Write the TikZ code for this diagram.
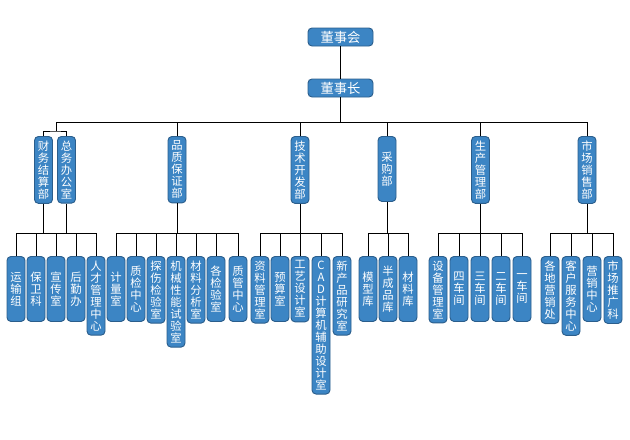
\documentclass[tikz,border=0pt]{standalone}
\usepackage{fontspec}
\newfontfamily\cjk{Noto Sans CJK SC}
\definecolor{unitfill}{HTML}{3C85C4}
\definecolor{unitline}{HTML}{2B5E8C}

\begin{document}
\begin{tikzpicture}[x=0.75pt, y=-0.75pt, line width=0.7pt,
        every node/.append style={font=\cjk}]
      \tikzstyle{box} = [draw=unitline, fill=unitfill, rounded corners=3pt, text=white, inner sep=0pt]
      \tikzstyle{head} = [box, minimum width=48.75pt, minimum height=13.5pt, font=\cjk\fontsize{10}{12}\selectfont]
      \tikzstyle{unit} = [box, anchor=north, align=center, minimum width=13.5pt, minimum height=48.75pt,
        inner ysep=3.2pt, font=\cjk\fontsize{8.5}{9}\selectfont]
      \useasboundingbox (0,0) rectangle (630,439);

      % board and chairman
      \node (board) [head] at (340.5,37) {董事会};
      \node (chair) [head] at (340.5,88) {董事长};
      \coordinate (topbus) at (0,122);
      \coordinate (lowbus) at (0,233);
      \coordinate (bracket) at (56,131);

      % departments
      \node (finance) [unit] at (43.5,136) {财\\务\\结\\算\\部};
      \node (office) [unit] at (66.5,136) {总\\务\\办\\公\\室};
      \node (quality) [unit] at (177,136) {品\\质\\保\\证\\部};
      \node (tech) [unit] at (300,136) {技\\术\\开\\发\\部};
      \node (purchase) [unit] at (387,136) {采\\购\\部};
      \node (production) [unit] at (480.5,136) {生\\产\\管\\理\\部};
      \node (market) [unit] at (587,136) {市\\场\\销\\售\\部};

      % sections
      \node (transport) [unit] at (16,256) {运\\输\\组};
      \node (guard) [unit] at (36,256) {保\\卫\\科};
      \node (publicity) [unit] at (56,256) {宣\\传\\室};
      \node (logistics) [unit] at (76,256) {后\\勤\\办};
      \node (talent) [unit] at (96,256) {人\\才\\管\\理\\中\\心};

      \node (metering) [unit] at (116,256) {计\\量\\室};
      \node (qcenter) [unit] at (136,256) {质\\检\\中\\心};
      \node (flaw) [unit] at (156,256) {探\\伤\\检\\验\\室};
      \node (mechlab) [unit] at (176,256) {机\\械\\性\\能\\试\\验\\室};
      \node (matlab) [unit] at (196,256) {材\\料\\分\\析\\室};
      \node (inspect) [unit] at (216,256) {各\\检\\验\\室};
      \node (qmgmt) [unit] at (238,256) {质\\管\\中\\心};

      \node (archive) [unit] at (260,256) {资\\料\\管\\理\\室};
      \node (budget) [unit] at (280,256) {预\\算\\室};
      \node (process) [unit] at (300,256) {工\\艺\\设\\计\\室};
      \node (cad) [unit] at (321,256) {C\\A\\D\\计\\算\\机\\辅\\助\\设\\计\\室};
      \node (newprod) [unit] at (342,256) {新\\产\\品\\研\\究\\室};

      \node (mould) [unit] at (368,256) {模\\型\\库};
      \node (semi) [unit] at (388,256) {半\\成\\品\\库};
      \node (matstore) [unit] at (408,256) {材\\料\\库};

      \node (equip) [unit] at (438,256) {设\\备\\管\\理\\室};
      \node (ws4) [unit] at (459,256) {四\\车\\间};
      \node (ws3) [unit] at (480,256) {三\\车\\间};
      \node (ws2) [unit] at (501,256) {二\\车\\间};
      \node (ws1) [unit] at (522,256) {一\\车\\间};

      \node (branch) [unit] at (550,256) {各\\地\\营\\销\\处};
      \node (service) [unit] at (571,256) {客\\户\\服\\务\\中\\心};
      \node (salescenter) [unit] at (592,256) {营\\销\\中\\心};
      \node (promo) [unit] at (613,256) {市\\场\\推\\广\\科};

      % upper connectors
      \draw (board) -- (chair);
      \draw (chair) -- (chair |- topbus);
      \draw (bracket |- topbus) -- (market.north |- topbus);
      \draw (bracket |- topbus) -- (bracket);
      \draw (finance.north) |- (bracket) -| (office.north);
      \foreach \d in {quality,tech,purchase,production,market}
        \draw (\d.north) -- (\d.north |- topbus);

      % lower connectors
      \foreach \d in {finance,office,quality,tech,purchase,production,market}
        \draw (\d.south) -- (\d.south |- lowbus);
      \foreach \s in {transport,guard,publicity,logistics,talent,metering,qcenter,flaw,mechlab,
          matlab,inspect,qmgmt,archive,budget,process,cad,newprod,mould,semi,matstore,
          equip,ws4,ws3,ws2,ws1,branch,service,salescenter,promo}
        \draw (\s.north) -- (\s.north |- lowbus);
      \draw (transport.north |- lowbus) -- (talent.north |- lowbus);
      \draw (metering.north |- lowbus) -- (qmgmt.north |- lowbus);
      \draw (archive.north |- lowbus) -- (newprod.north |- lowbus);
      \draw (mould.north |- lowbus) -- (matstore.north |- lowbus);
      \draw (equip.north |- lowbus) -- (ws1.north |- lowbus);
      \draw (branch.north |- lowbus) -- (promo.north |- lowbus);
\end{tikzpicture}
\end{document}
